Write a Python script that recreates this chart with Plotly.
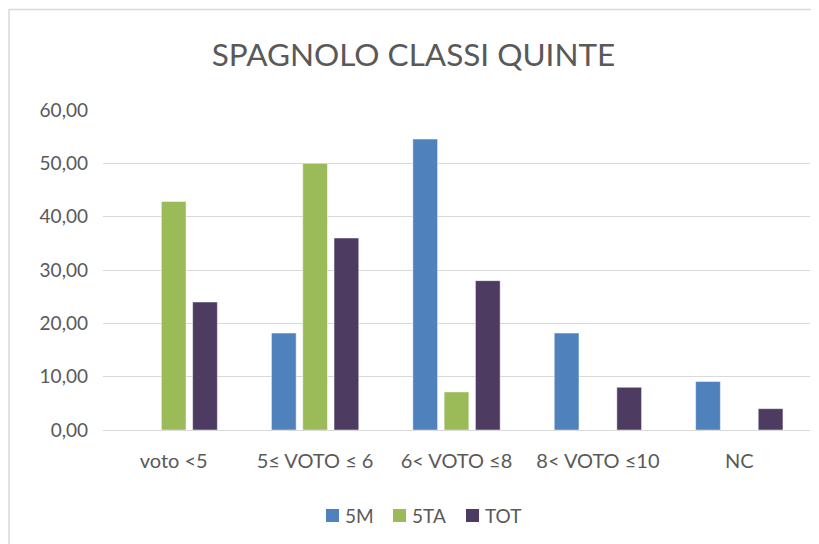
import plotly.graph_objects as go

categories = ["voto <5", "5≤ VOTO ≤ 6", "6< VOTO ≤8", "8< VOTO ≤10", "NC"]
s_5m = [0, 18.18, 54.55, 18.18, 9.09]
s_5ta = [42.86, 50.00, 7.14, 0, 0]
s_tot = [24.00, 36.00, 28.00, 8.00, 4.00]
y_ticks = [0, 10, 20, 30, 40, 50, 60]
series_names = ["5M", "5TA", "TOT"]
series_colors = ["#4F81BD", "#9BBB59", "#4D3B62"]

FONT = "Lato"
TXT = "#595959"
O = 8  # default page body margin

W, H = 819 - O, 544 - O
L, R, T, B = 103 - O, 17 - O, 110 - O, 114
pw, ph = W - L - R, H - T - B


def px(x):  # page x -> paper x
    return (x - O - L) / pw


def py(y):  # page y -> paper y
    return 1 - (y - O - T) / ph


fig = go.Figure()
for name, vals, col in zip(series_names, [s_5m, s_5ta, s_tot], series_colors):
    fig.add_trace(go.Bar(
        x=categories, y=vals, name=name, showlegend=False,
        marker=dict(color=col, line=dict(color="rgba(255,255,255,0.6)", width=0.8)),
    ))

fig.update_layout(
    width=W, height=H,
    margin=dict(l=L, r=R, t=T, b=B),
    paper_bgcolor="white", plot_bgcolor="white",
    separators=",.",
    barmode="group", bargap=0.336, bargroupgap=0.21,
    font=dict(family=FONT, color=TXT, size=19),
    title=dict(text="SPAGNOLO CLASSI QUINTE", x=0.5, xanchor="center",
               y=1 - (55 - O) / H, yanchor="middle", yref="container",
               font=dict(family=FONT, size=31.5, color=TXT)),
    showlegend=False,
)
fig.update_yaxes(range=[0, 60], tickvals=y_ticks, tickformat=".2f",
                 showgrid=True, gridcolor="#D9D9D9", gridwidth=1.3,
                 zeroline=True, zerolinecolor="#D9D9D9", zerolinewidth=1.3,
                 showline=False, ticks="", ticklabelstandoff=14,
                 tickfont=dict(size=19, color=TXT), fixedrange=True)
fig.update_xaxes(showgrid=False, showline=False, ticks="", ticklabelstandoff=17,
                 tickfont=dict(size=20, color=TXT))

# custom legend (square markers + labels)
leg_x = [326, 393, 466]
for name, col, x0 in zip(series_names, series_colors, leg_x):
    fig.add_shape(type="rect", xref="paper", yref="paper",
                  x0=px(x0), x1=px(x0 + 13), y0=py(522), y1=py(509),
                  line=dict(width=0), fillcolor=col)
    fig.add_annotation(xref="paper", yref="paper", x=px(x0 + 17), y=py(515.5),
                       text=name, showarrow=False, xanchor="left", yanchor="middle",
                       font=dict(size=19, color=TXT, family=FONT))

# outer chart border
fig.add_shape(type="rect", xref="paper", yref="paper",
              x0=px(9), x1=px(817), y0=py(550), y1=py(9.5),
              line=dict(color="#D9D9D9", width=1.5), fillcolor="rgba(0,0,0,0)", layer="below")

fig.write_html("out.html")
